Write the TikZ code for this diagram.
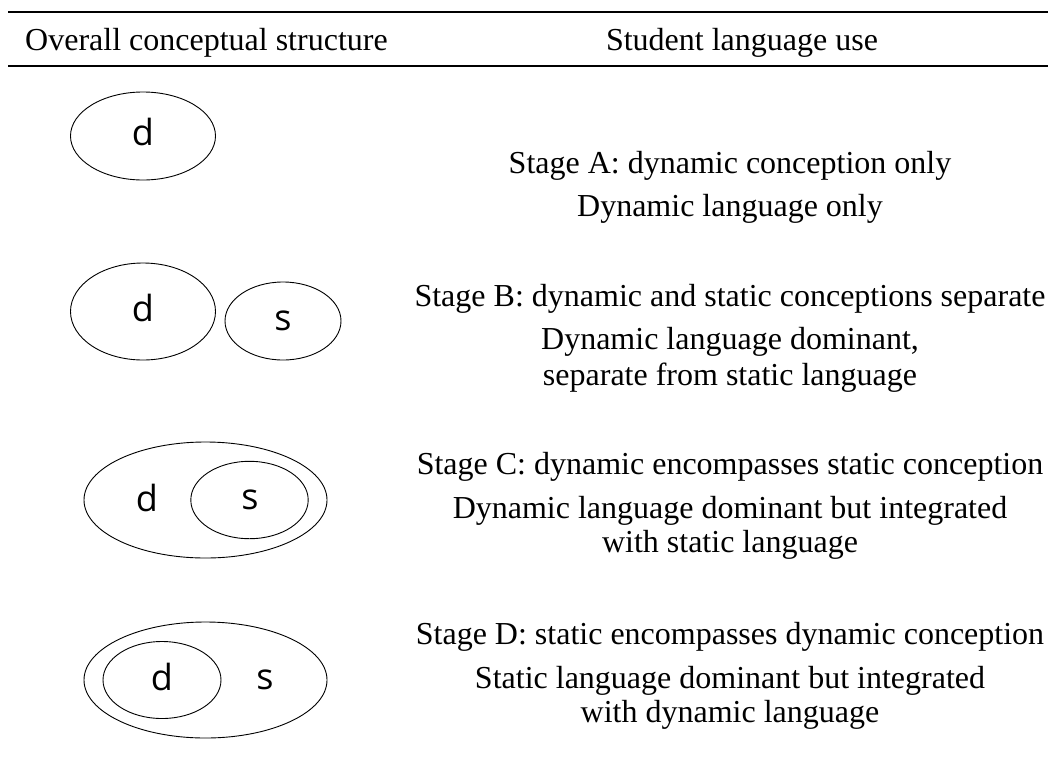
\documentclass[tikz,border=0pt]{standalone}
\usepackage{fontspec}
\setmainfont{Liberation Serif}
\newfontfamily\lettfont{Open Sans}
\begin{document}
\begin{tikzpicture}[x=1pt,y=-1pt,
  rule/.style={line width=2pt},
  ring/.style={line width=0.9pt},
  lett/.style={font=\lettfont\fontsize{36}{40}\selectfont,anchor=center,inner sep=0pt},
  txt/.style={font=\fontsize{32}{36}\selectfont,anchor=base,inner sep=0pt},
  hdr/.style={font=\fontsize{32}{36}\selectfont,anchor=base,inner sep=0pt}]
\useasboundingbox (0,0) rectangle (1048,782);
\coordinate (r1a) at (8,12); \coordinate (r1b) at (1048,12);
\coordinate (r2a) at (8,66); \coordinate (r2b) at (1048,66);
\draw[rule] (r1a) -- (r1b);
\draw[rule] (r2a) -- (r2b);
\node[hdr,anchor=base west] (h1) at (25,50) {Overall conceptual structure};
\node[hdr] (h2) at (742,50) {Student language use};
% Stage A
\draw[ring] (143,136) ellipse [x radius=72.5, y radius=44];
\node[lett] (dA) at (143,132) {d};
\node[txt] (a1) at (730,173) {Stage A: dynamic conception only};
\node[txt] (a2) at (730,216) {Dynamic language only};
% Stage B
\draw[ring] (143,311.5) ellipse [x radius=72.5, y radius=48.5];
\draw[ring] (283,321) ellipse [x radius=58, y radius=39];
\node[lett] (dB) at (143,308) {d};
\node[lett] (sB) at (283,321) {s};
\node[txt] (b1) at (730,306) {Stage B: dynamic and static conceptions separate};
\node[txt] (b2) at (730,349) {Dynamic language dominant,};
\node[txt] (b3) at (730,385) {separate from static language};
% Stage C
\draw[ring] (205.5,500) ellipse [x radius=121.5, y radius=58];
\draw[ring] (249.5,500) ellipse [x radius=58.7, y radius=38.7];
\node[lett] (dC) at (147,498) {d};
\node[lett] (sC) at (250,500) {s};
\node[txt] (c1) at (730,474) {Stage C: dynamic encompasses static conception};
\node[txt] (c2) at (730,518) {Dynamic language dominant but integrated};
\node[txt] (c3) at (730,552) {with static language};
% Stage D
\draw[ring] (205.5,680) ellipse [x radius=121.5, y radius=58];
\draw[ring] (162,680) ellipse [x radius=59, y radius=38.5];
\node[lett] (dD) at (162,677) {d};
\node[lett] (sD) at (265,680) {s};
\node[txt] (d1) at (730,644) {Stage D: static encompasses dynamic conception};
\node[txt] (d2) at (730,688) {Static language dominant but integrated};
\node[txt] (d3) at (730,722) {with dynamic language};
\end{tikzpicture}
\end{document}
